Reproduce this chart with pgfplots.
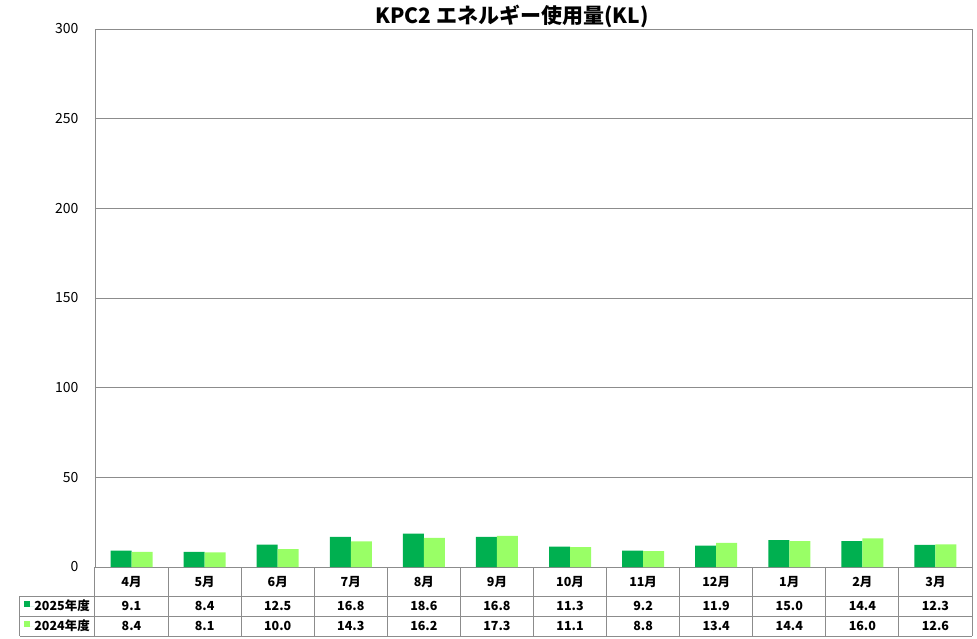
\documentclass[border=0pt]{standalone}
\usepackage{fontspec}
\setmainfont{Noto Sans CJK JP}
\usepackage{pgfplots}
\usepackage{pgfplotstable}
\pgfplotsset{compat=1.18}
\definecolor{darkg}{HTML}{00B050}
\definecolor{lightg}{HTML}{99FF66}
\definecolor{linegray}{HTML}{8C8C8C}

% month, FY2025, FY2024 (KL)
\pgfplotstableread{
x m y25 y24
0 4月 9.1 8.4
1 5月 8.4 8.1
2 6月 12.5 10.0
3 7月 16.8 14.3
4 8月 18.6 16.2
5 9月 16.8 17.3
6 10月 11.3 11.1
7 11月 9.2 8.8
8 12月 11.9 13.4
9 1月 15.0 14.4
10 2月 14.4 16.0
11 3月 12.3 12.6
}\energy

\begin{document}
\begin{tikzpicture}
\useasboundingbox (-95pt,-71pt) rectangle (882pt,567pt);
\begin{axis}[
  at={(0,0)}, anchor=south west,
  width=877pt, height=538pt, scale only axis,
  xmin=-0.5, xmax=11.5, ymin=0, ymax=300,
  ytick={0,50,...,300}, xtick=\empty,
  ymajorgrids, grid style={linegray, line width=0.8pt},
  axis line style={linegray, line width=0.8pt},
  major tick length=0pt,
  yticklabel style={font=\fontsize{14}{14}\selectfont, xshift=-13pt},
  /pgf/number format/assume math mode=true,
  ybar=0pt, bar width=21pt,
  legend style={draw=none, fill=none, at={(axis description cs:0,0)}, anchor=north east,
    xshift=-5pt, yshift=-29pt, inner sep=0pt, row sep=0pt,
    font=\fontsize{12.5}{13}\selectfont\bfseries,
    nodes={inner sep=0pt, minimum height=20pt}},
  legend cell align=left,
  legend image code/.code={\fill[#1] (0pt,-1pt) rectangle (6pt,5pt); \path (0pt,0pt) -- (10pt,0pt);},
]
\addplot[fill=darkg, draw=none] table[x=x, y=y25] {\energy};
\addlegendentry{2025年度}
\addplot[fill=lightg, draw=none] table[x=x, y=y24] {\energy};
\addlegendentry{2024年度}
\end{axis}

% title
\node[font=\fontsize{21}{21}\selectfont\bfseries] at (417pt,551pt) {KPC2 エネルギー使用量(KL)};

% data table under the plot
\begin{scope}[linegray, line width=1pt]
  \foreach \k in {0,...,12} \draw ({\k*73.0833pt},0pt) -- ({\k*73.0833pt},-69pt);
  \draw (-75pt,-29pt) -- (877pt,-29pt);
  \draw (-75pt,-49pt) -- (877pt,-49pt);
  \draw (-75pt,-69pt) -- (877pt,-69pt);
  \draw (-75pt,-29pt) -- (-75pt,-69pt);
  \draw (877pt,0pt) -- (877pt,538pt);
\end{scope}
\tikzset{cell/.style={font=\fontsize{12.5}{13}\selectfont\bfseries, inner sep=0pt, text height=9pt, text depth=0pt}}
\foreach \i in {0,...,11}{
  \pgfplotstablegetelem{\i}{m}\of\energy \let\mm\pgfplotsretval
  \node[cell] at ({(\i+0.5)*73.0833pt},-14.5pt) {\mm};
  \pgfplotstablegetelem{\i}{y25}\of\energy \let\va\pgfplotsretval
  \node[cell] at ({(\i+0.5)*73.0833pt},-39pt) {\va};
  \pgfplotstablegetelem{\i}{y24}\of\energy \let\vb\pgfplotsretval
  \node[cell] at ({(\i+0.5)*73.0833pt},-59pt) {\vb};
}
\end{tikzpicture}
\end{document}
